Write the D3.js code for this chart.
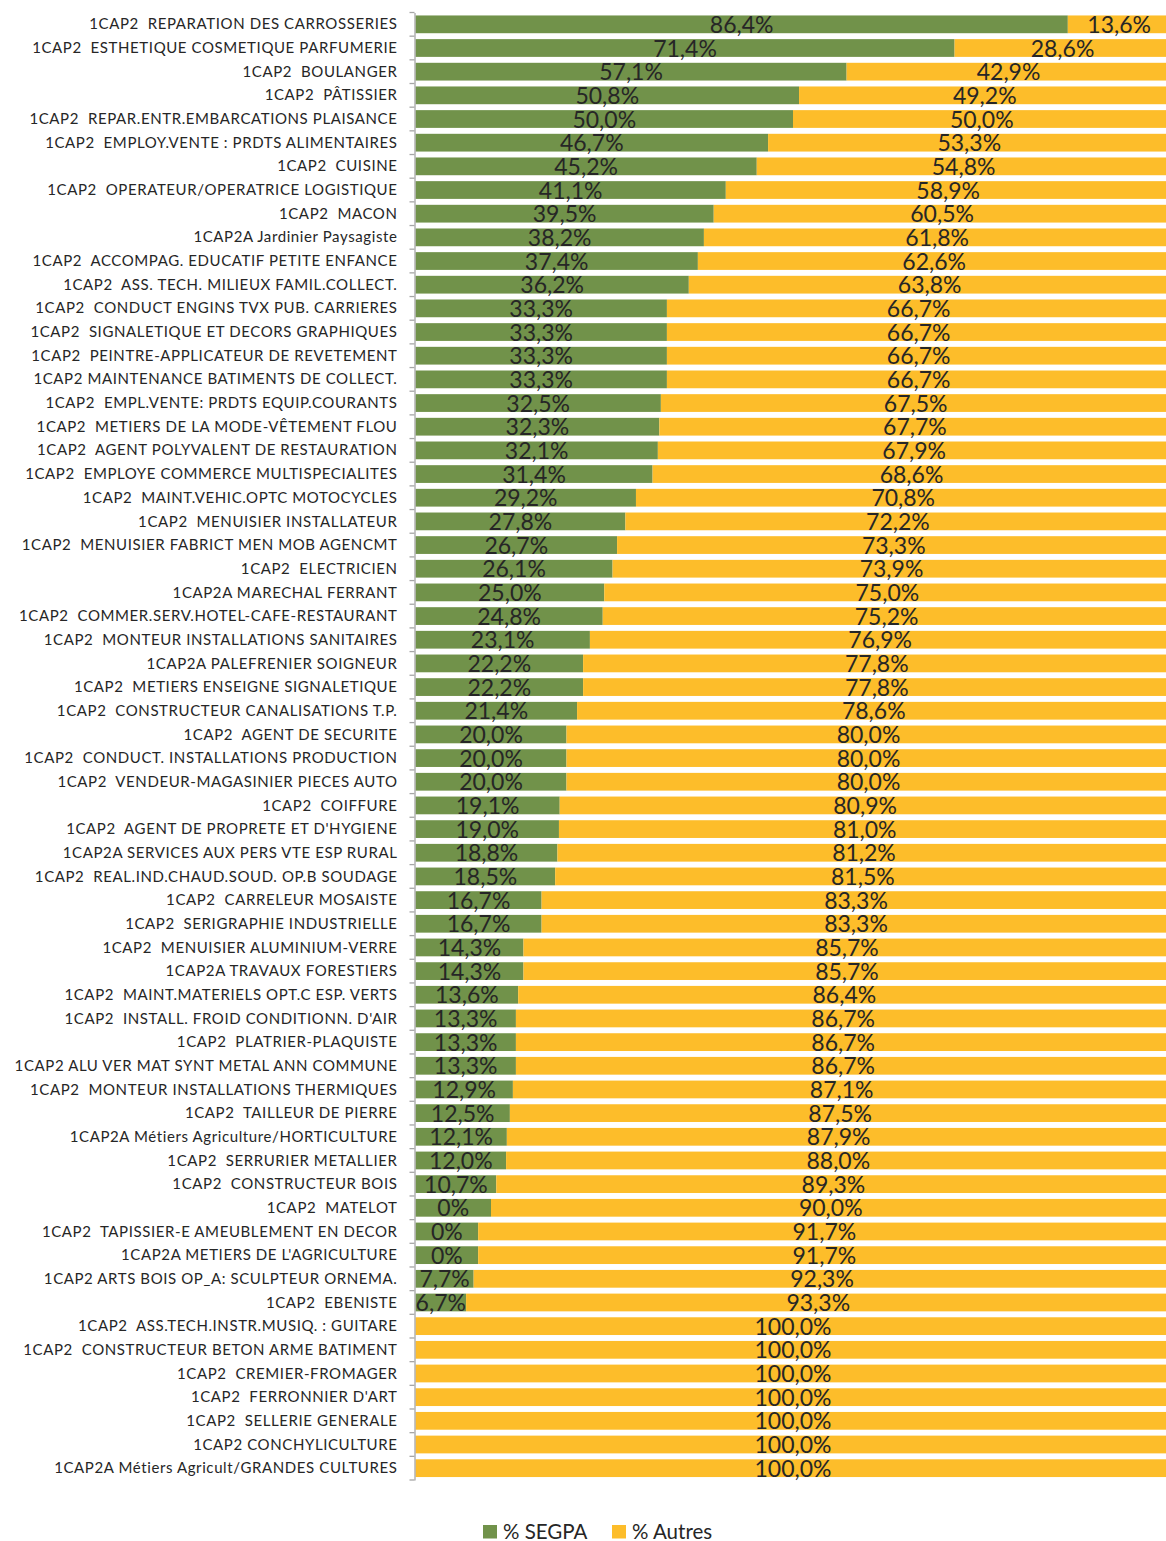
<!DOCTYPE html>
<html>
<head>
<meta charset="utf-8">
<script src="https://cdn.jsdelivr.net/npm/d3@7"></script>
<style>
  body { margin: 0; background: #fff; }
  svg { display: block; font-family: Lato, "Open Sans", sans-serif; }
  .cat { white-space: pre; }
</style>
</head>
<body>
<div id="chart"></div>
<script>
// Share of SEGPA pupils per CAP course
// ------------------------------------

var categories = [
  "1CAP2  REPARATION DES CARROSSERIES",
  "1CAP2  ESTHETIQUE COSMETIQUE PARFUMERIE",
  "1CAP2  BOULANGER",
  "1CAP2  PÂTISSIER",
  "1CAP2  REPAR.ENTR.EMBARCATIONS PLAISANCE",
  "1CAP2  EMPLOY.VENTE : PRDTS ALIMENTAIRES",
  "1CAP2  CUISINE",
  "1CAP2  OPERATEUR/OPERATRICE LOGISTIQUE",
  "1CAP2  MACON",
  "1CAP2A Jardinier Paysagiste",
  "1CAP2  ACCOMPAG. EDUCATIF PETITE ENFANCE",
  "1CAP2  ASS. TECH. MILIEUX FAMIL.COLLECT.",
  "1CAP2  CONDUCT ENGINS TVX PUB. CARRIERES",
  "1CAP2  SIGNALETIQUE ET DECORS GRAPHIQUES",
  "1CAP2  PEINTRE-APPLICATEUR DE REVETEMENT",
  "1CAP2 MAINTENANCE BATIMENTS DE COLLECT.",
  "1CAP2  EMPL.VENTE: PRDTS EQUIP.COURANTS",
  "1CAP2  METIERS DE LA MODE-VÊTEMENT FLOU",
  "1CAP2  AGENT POLYVALENT DE RESTAURATION",
  "1CAP2  EMPLOYE COMMERCE MULTISPECIALITES",
  "1CAP2  MAINT.VEHIC.OPTC MOTOCYCLES",
  "1CAP2  MENUISIER INSTALLATEUR",
  "1CAP2  MENUISIER FABRICT MEN MOB AGENCMT",
  "1CAP2  ELECTRICIEN",
  "1CAP2A MARECHAL FERRANT",
  "1CAP2  COMMER.SERV.HOTEL-CAFE-RESTAURANT",
  "1CAP2  MONTEUR INSTALLATIONS SANITAIRES",
  "1CAP2A PALEFRENIER SOIGNEUR",
  "1CAP2  METIERS ENSEIGNE SIGNALETIQUE",
  "1CAP2  CONSTRUCTEUR CANALISATIONS T.P.",
  "1CAP2  AGENT DE SECURITE",
  "1CAP2  CONDUCT. INSTALLATIONS PRODUCTION",
  "1CAP2  VENDEUR-MAGASINIER PIECES AUTO",
  "1CAP2  COIFFURE",
  "1CAP2  AGENT DE PROPRETE ET D'HYGIENE",
  "1CAP2A SERVICES AUX PERS VTE ESP RURAL",
  "1CAP2  REAL.IND.CHAUD.SOUD. OP.B SOUDAGE",
  "1CAP2  CARRELEUR MOSAISTE",
  "1CAP2  SERIGRAPHIE INDUSTRIELLE",
  "1CAP2  MENUISIER ALUMINIUM-VERRE",
  "1CAP2A TRAVAUX FORESTIERS",
  "1CAP2  MAINT.MATERIELS OPT.C ESP. VERTS",
  "1CAP2  INSTALL. FROID CONDITIONN. D'AIR",
  "1CAP2  PLATRIER-PLAQUISTE",
  "1CAP2 ALU VER MAT SYNT METAL ANN COMMUNE",
  "1CAP2  MONTEUR INSTALLATIONS THERMIQUES",
  "1CAP2  TAILLEUR DE PIERRE",
  "1CAP2A Métiers Agriculture/HORTICULTURE",
  "1CAP2  SERRURIER METALLIER",
  "1CAP2  CONSTRUCTEUR BOIS",
  "1CAP2  MATELOT",
  "1CAP2  TAPISSIER-E AMEUBLEMENT EN DECOR",
  "1CAP2A METIERS DE L'AGRICULTURE",
  "1CAP2 ARTS BOIS OP_A: SCULPTEUR ORNEMA.",
  "1CAP2  EBENISTE",
  "1CAP2  ASS.TECH.INSTR.MUSIQ. : GUITARE",
  "1CAP2  CONSTRUCTEUR BETON ARME BATIMENT",
  "1CAP2  CREMIER-FROMAGER",
  "1CAP2  FERRONNIER D'ART",
  "1CAP2  SELLERIE GENERALE",
  "1CAP2 CONCHYLICULTURE",
  "1CAP2A Métiers Agricult/GRANDES CULTURES"
];

var segpa = [
  86.4, 71.4, 57.1, 50.8, 50.0, 46.7, 45.2, 41.1, 39.5, 38.2,
  37.4, 36.2, 33.3, 33.3, 33.3, 33.3, 32.5, 32.3, 32.1, 31.4,
  29.2, 27.8, 26.7, 26.1, 25.0, 24.8, 23.1, 22.2, 22.2, 21.4,
  20.0, 20.0, 20.0, 19.1, 19.0, 18.8, 18.5, 16.7, 16.7, 14.3,
  14.3, 13.6, 13.3, 13.3, 13.3, 12.9, 12.5, 12.1, 12.0, 10.7,
  10.0, 8.3, 8.3, 7.7, 6.7, 0, 0, 0, 0, 0,
  0, 0
];

var autres = [
  13.6, 28.6, 42.9, 49.2, 50.0, 53.3, 54.8, 58.9, 60.5, 61.8,
  62.6, 63.8, 66.7, 66.7, 66.7, 66.7, 67.5, 67.7, 67.9, 68.6,
  70.8, 72.2, 73.3, 73.9, 75.0, 75.2, 76.9, 77.8, 77.8, 78.6,
  80.0, 80.0, 80.0, 80.9, 81.0, 81.2, 81.5, 83.3, 83.3, 85.7,
  85.7, 86.4, 86.7, 86.7, 86.7, 87.1, 87.5, 87.9, 88.0, 89.3,
  90.0, 91.7, 91.7, 92.3, 93.3, 100, 100, 100, 100, 100,
  100, 100
];

// labels that the source shows as plain "0%"
var segpaLabelOverride = {
  "1CAP2  MATELOT": "0%",
  "1CAP2  TAPISSIER-E AMEUBLEMENT EN DECOR": "0%",
  "1CAP2A METIERS DE L'AGRICULTURE": "0%"
};

var seriesNames = ["% SEGPA", "% Autres"];
var colors = ["#71924A", "#FDBD2A"];

var width = 1166, height = 1541;
var x0 = 415.5, x1 = 1170.5;

var rows = categories.map(function(c, i) {
  return { cat: c, segpa: segpa[i], autres: autres[i] };
});

var svg = d3.select("#chart").append("svg")
  .attr("width", width)
  .attr("height", height);

var x = d3.scaleLinear().domain([0, 100]).range([x0, x1]);
var y = d3.scaleBand().domain(categories).range([12.5, 1480]).paddingInner(0.25).paddingOuter(0.125);

var fmt = function(v) { return d3.format(".1f")(v).replace(".", ",") + "%"; };

var stack = d3.stack().keys(["segpa", "autres"]);
var layers = stack(rows);

// bars
var g = svg.append("g");
g.selectAll("g.layer")
  .data(layers)
  .enter().append("g")
    .attr("class", "layer")
    .attr("fill", function(d, i) { return colors[i]; })
  .selectAll("rect")
  .data(function(d) { return d; })
  .enter().append("rect")
    .attr("x", function(d) { return x(d[0]); })
    .attr("y", function(d) { return y(d.data.cat); })
    .attr("width", function(d) { return x(d[1]) - x(d[0]); })
    .attr("height", y.bandwidth());

// value labels
layers.forEach(function(layer) {
  g.append("g").selectAll("text")
    .data(layer.filter(function(d) { return d[1] - d[0] > 0; }))
    .enter().append("text")
      .attr("x", function(d) { return (x(d[0]) + x(d[1])) / 2; })
      .attr("y", function(d) { return y(d.data.cat) + y.bandwidth() / 2 + 8.5; })
      .attr("text-anchor", "middle")
      .attr("font-size", 23)
      .attr("fill", "#262626")
      .text(function(d) {
        var v = d[1] - d[0];
        if (layer.key === "segpa" && segpaLabelOverride[d.data.cat]) return segpaLabelOverride[d.data.cat];
        return fmt(v);
      });
});

// category axis
var axis = d3.axisLeft(y).tickSize(0).tickPadding(17);
var ax = svg.append("g")
  .attr("transform", "translate(414.5,0)")
  .call(axis);
ax.select(".domain").attr("stroke", "#a6a6a6").attr("stroke-width", 1.3);
ax.selectAll(".tick text")
  .attr("class", "cat")
  .attr("font-family", "Lato, sans-serif")
  .attr("font-size", 15)
  .attr("letter-spacing", 0.6)
  .attr("fill", "#262626")
  .attr("dy", "0.34em");

// tick marks at the band boundaries
var bounds = categories.map(function(c) { return y(c) - y.step() * y.paddingInner() / 2; });
bounds.push(1480);
ax.selectAll("line.bound")
  .data(bounds)
  .enter().append("line")
    .attr("class", "bound")
    .attr("x1", -5).attr("x2", 0)
    .attr("y1", function(d) { return d; })
    .attr("y2", function(d) { return d; })
    .attr("stroke", "#a6a6a6")
    .attr("stroke-width", 1.3);

// legend
var legend = svg.append("g").attr("transform", "translate(483,1525)");
var legendX = [0, 129];
seriesNames.forEach(function(name, i) {
  legend.append("rect")
    .attr("x", legendX[i]).attr("y", 0)
    .attr("width", 14).attr("height", 13.5)
    .attr("fill", colors[i]);
  legend.append("text")
    .attr("x", legendX[i] + 20).attr("y", 13.5)
    .attr("font-size", 20.5)
    .attr("fill", "#262626")
    .text(name);
});
</script>
</body>
</html>
